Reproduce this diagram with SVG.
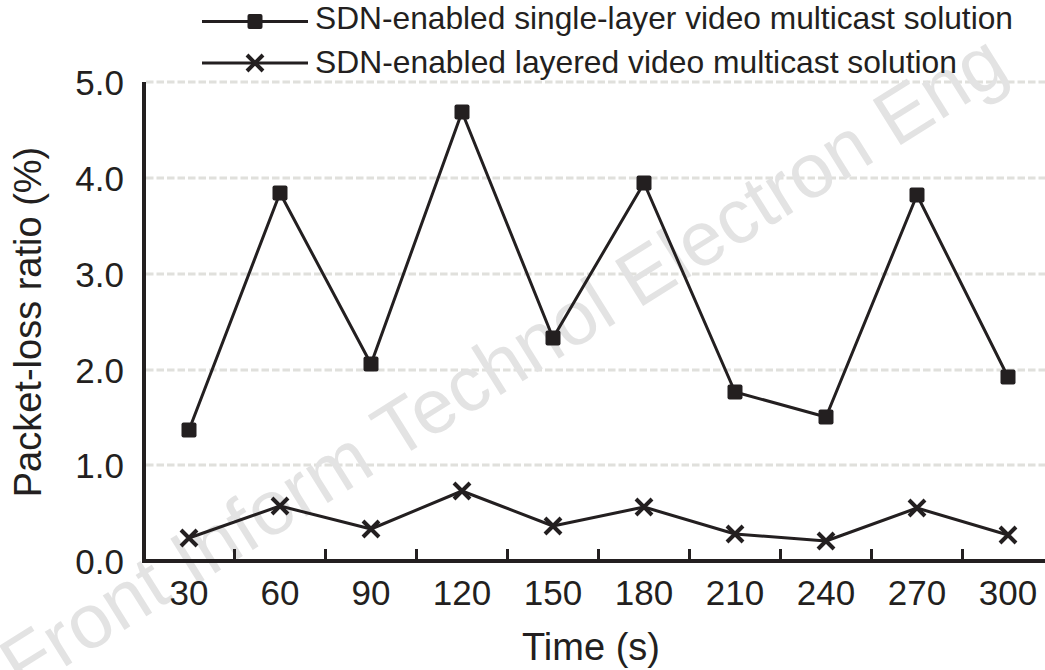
<svg xmlns="http://www.w3.org/2000/svg" width="1045" height="670" viewBox="0 0 1045 670">
<style>
text{font-family:"Liberation Sans",Arial,sans-serif;fill:#231f20}
.grid{stroke:#e0e0dc;stroke-width:3;stroke-dasharray:7.5 3;fill:none}
.axis{stroke:#231f20;stroke-width:4;fill:none}
.tick{stroke:#231f20;stroke-width:3}
.series{stroke:#231f20;stroke-width:3;fill:none;stroke-linejoin:round}
.ytl{font-size:35px;text-anchor:end}
.xtl{font-size:35px;text-anchor:middle}
.leg{font-size:32px}
.wm{font-size:77px;fill:#e3e3e3}
</style>
<defs>
<rect id="sq" x="-7.5" y="-7.5" width="15" height="15" rx="2" fill="#231f20"/>
<path id="xm" d="M-8,-8 L8,8 M-8,8 L8,-8" stroke="#231f20" stroke-width="4" fill="none"/>
</defs>
<rect width="1045" height="670" fill="#ffffff"/>
<g id="grid">
<line class="grid" x1="146" y1="82" x2="1045" y2="82"/>
<line class="grid" x1="146" y1="178" x2="1045" y2="178"/>
<line class="grid" x1="146" y1="274" x2="1045" y2="274"/>
<line class="grid" x1="146" y1="370" x2="1045" y2="370"/>
<line class="grid" x1="146" y1="465" x2="1045" y2="465"/>
</g>
<g id="watermark">
<text class="wm" transform="translate(22,694) rotate(-32)">Front Inform Technol Electron Eng</text>
</g>
<g id="axes">
<path class="axis" d="M144,82 V561 H1045"/>
<line class="tick" x1="234.5" y1="561" x2="234.5" y2="549"/>
<line class="tick" x1="325.5" y1="561" x2="325.5" y2="549"/>
<line class="tick" x1="416.5" y1="561" x2="416.5" y2="549"/>
<line class="tick" x1="507.5" y1="561" x2="507.5" y2="549"/>
<line class="tick" x1="598.5" y1="561" x2="598.5" y2="549"/>
<line class="tick" x1="689.5" y1="561" x2="689.5" y2="549"/>
<line class="tick" x1="780.5" y1="561" x2="780.5" y2="549"/>
<line class="tick" x1="871.5" y1="561" x2="871.5" y2="549"/>
<line class="tick" x1="962.5" y1="561" x2="962.5" y2="549"/>
</g>
<g id="y-labels">
<text class="ytl" x="124" y="95">5.0</text>
<text class="ytl" x="124" y="191">4.0</text>
<text class="ytl" x="124" y="287">3.0</text>
<text class="ytl" x="124" y="383">2.0</text>
<text class="ytl" x="124" y="478">1.0</text>
<text class="ytl" x="124" y="574">0.0</text>
</g>
<g id="x-labels">
<text class="xtl" x="189" y="605">30</text>
<text class="xtl" x="280" y="605">60</text>
<text class="xtl" x="371" y="605">90</text>
<text class="xtl" x="462" y="605">120</text>
<text class="xtl" x="553" y="605">150</text>
<text class="xtl" x="644" y="605">180</text>
<text class="xtl" x="735" y="605">210</text>
<text class="xtl" x="826" y="605">240</text>
<text class="xtl" x="917" y="605">270</text>
<text class="xtl" x="1008" y="605">300</text>
</g>
<g id="axis-titles">
<text x="591" y="660" font-size="38" text-anchor="middle">Time (s)</text>
<text transform="translate(41,322) rotate(-90)" font-size="38" text-anchor="middle">Packet-loss ratio (%)</text>
</g>
<g id="series-single">
<polyline class="series" points="189,430 280,193 371,364 462,112 553,338 644,183 735,392 826,417 917,195 1008,377"/>
<use href="#sq" x="189" y="430"/>
<use href="#sq" x="280" y="193"/>
<use href="#sq" x="371" y="364"/>
<use href="#sq" x="462" y="112"/>
<use href="#sq" x="553" y="338"/>
<use href="#sq" x="644" y="183"/>
<use href="#sq" x="735" y="392"/>
<use href="#sq" x="826" y="417"/>
<use href="#sq" x="917" y="195"/>
<use href="#sq" x="1008" y="377"/>
</g>
<g id="series-layered">
<polyline class="series" points="189,538 280,506 371,529 462,491 553,526 644,507 735,534 826,541 917,508 1008,535"/>
<use href="#xm" x="189" y="538"/>
<use href="#xm" x="280" y="506"/>
<use href="#xm" x="371" y="529"/>
<use href="#xm" x="462" y="491"/>
<use href="#xm" x="553" y="526"/>
<use href="#xm" x="644" y="507"/>
<use href="#xm" x="735" y="534"/>
<use href="#xm" x="826" y="541"/>
<use href="#xm" x="917" y="508"/>
<use href="#xm" x="1008" y="535"/>
</g>
<g id="legend">
<line class="series" x1="202" y1="21.5" x2="308" y2="21.5"/>
<use href="#sq" x="255" y="21.5"/>
<text class="leg" x="315" y="29" textLength="698" lengthAdjust="spacingAndGlyphs">SDN-enabled single-layer video multicast solution</text>
<line class="series" x1="202" y1="63" x2="308" y2="63"/>
<use href="#xm" x="255" y="63"/>
<text class="leg" x="315" y="73" textLength="642" lengthAdjust="spacingAndGlyphs">SDN-enabled layered video multicast solution</text>
</g>
</svg>
